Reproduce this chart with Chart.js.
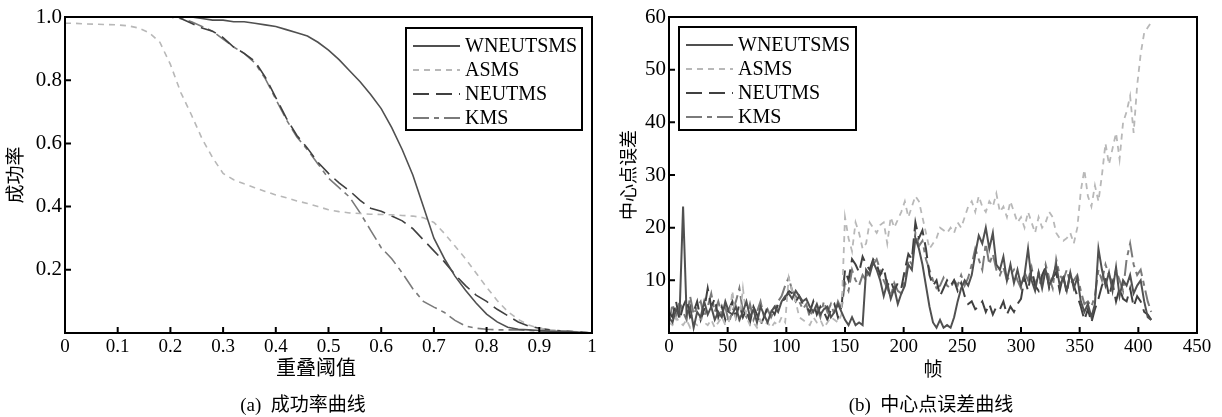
<!DOCTYPE html>
<html>

<head>
  <meta charset="UTF-8">
  <meta name="viewport" content="width=device-width, initial-scale=1.0">
  <style>
    body { margin: 0; width: 1222px; height: 417px; background: #fff; position: relative; overflow: hidden; }
    .pane { position: absolute; top: 0; height: 417px; }
    .caption { position: absolute; top: 393px; height: 24px; line-height: 24px; text-align: center;
      font-size: 19px; font-family: "Liberation Serif", "Noto Sans CJK SC", serif; color: #000; white-space: pre; }
  </style>
</head>

<body>
  <div class="pane" style="left:0; width:610px"><canvas id="successChart"></canvas></div>
  <div class="pane" style="left:610px; width:612px"><canvas id="errorChart"></canvas></div>
  <div class="caption" style="left:193px; width:220px">(a)  成功率曲线</div>
  <div class="caption" style="left:801px; width:260px">(b)  中心点误差曲线</div>

  <script src="https://cdn.jsdelivr.net/npm/chart.js@4.3.0/dist/chart.umd.min.js"></script>
  <script>
    const trackers = ["WNEUTSMS", "ASMS", "NEUTMS", "KMS"]

    // overlap thresholds (x of the success plot)
    const thresholds = [0, 0.02, 0.04, 0.06, 0.08, 0.1, 0.12, 0.14, 0.16, 0.18,
      0.2, 0.22, 0.24, 0.26, 0.28, 0.3, 0.32, 0.34, 0.36, 0.38,
      0.4, 0.42, 0.44, 0.46, 0.48, 0.5, 0.52, 0.54, 0.56, 0.58,
      0.6, 0.62, 0.64, 0.66, 0.68, 0.7, 0.72, 0.74, 0.76, 0.78,
      0.8, 0.82, 0.84, 0.86, 0.88, 0.9, 0.92, 0.94, 0.96, 0.98, 1]

    const successWNEUTSMS = [1, 1, 1, 1, 1, 1, 1, 1, 1, 1,
      1, 1, 1, 0.995, 0.99, 0.99, 0.985, 0.985, 0.98, 0.975,
      0.97, 0.96, 0.95, 0.94, 0.92, 0.895, 0.865, 0.83, 0.795, 0.755,
      0.71, 0.65, 0.58, 0.5, 0.4, 0.3, 0.235, 0.18, 0.135, 0.095,
      0.06, 0.035, 0.018, 0.012, 0.01, 0.008, 0.006, 0.005, 0.004, 0.002, 0]
    const successASMS = [0.98, 0.98, 0.978, 0.977, 0.976, 0.975, 0.972, 0.965, 0.95, 0.92,
      0.85, 0.76, 0.69, 0.615, 0.555, 0.505, 0.485, 0.472, 0.46, 0.448,
      0.437, 0.428, 0.418, 0.41, 0.4, 0.39, 0.384, 0.38, 0.378, 0.376,
      0.375, 0.374, 0.372, 0.37, 0.365, 0.35, 0.315, 0.275, 0.235, 0.19,
      0.145, 0.103, 0.068, 0.043, 0.025, 0.015, 0.01, 0.007, 0.005, 0.003, 0]
    const successNEUTMS = [1, 1, 1, 1, 1, 1, 1, 1, 1, 1,
      1, 0.995, 0.98, 0.965, 0.955, 0.935, 0.905, 0.885, 0.86, 0.81,
      0.745, 0.68, 0.625, 0.585, 0.54, 0.505, 0.475, 0.45, 0.42, 0.395,
      0.385, 0.37, 0.355, 0.33, 0.295, 0.26, 0.225, 0.185, 0.15, 0.12,
      0.1, 0.075, 0.055, 0.035, 0.022, 0.015, 0.01, 0.007, 0.005, 0.003, 0]
    const successKMS = [1, 1, 1, 1, 1, 1, 1, 1, 1, 1,
      1, 0.995, 0.985, 0.97, 0.955, 0.93, 0.905, 0.885, 0.855, 0.805,
      0.74, 0.675, 0.62, 0.58, 0.535, 0.49, 0.46, 0.43, 0.38, 0.325,
      0.27, 0.235, 0.19, 0.14, 0.1, 0.082, 0.065, 0.04, 0.022, 0.015,
      0.012, 0.01, 0.01, 0.01, 0.008, 0.006, 0.004, 0.002, 0, 0, 0]

    // frame numbers (x of the center error plot)
    const frames = [0, 3, 6, 9, 12, 15, 18, 21, 24, 27,
      30, 33, 36, 39, 42, 45, 48, 51, 54, 57,
      60, 63, 66, 69, 72, 75, 78, 81, 84, 87,
      90, 93, 96, 99, 102, 105, 108, 111, 114, 117,
      120, 123, 126, 129, 132, 135, 138, 141, 144, 147,
      150, 153, 156, 159, 162, 165, 168, 171, 174, 177,
      180, 183, 186, 189, 192, 195, 198, 201, 204, 207,
      210, 213, 216, 219, 222, 225, 228, 231, 234, 237,
      240, 243, 246, 249, 252, 255, 258, 261, 264, 267,
      270, 273, 276, 279, 282, 285, 288, 291, 294, 297,
      300, 303, 306, 309, 312, 315, 318, 321, 324, 327,
      330, 333, 336, 339, 342, 345, 348, 351, 354, 357,
      360, 363, 366, 369, 372, 375, 378, 381, 384, 387,
      390, 393, 396, 399, 402, 405, 408, 411]

    const errorWNEUTSMS = [3, 2, 4.5, 3.5, 24, 3.5, 5, 1, 4, 3,
      6, 3.5, 5, 2.5, 4, 3, 6, 4, 3.5, 5,
      2.5, 4, 6, 3, 4.5, 2, 5, 3.5, 2, 4,
      5, 4, 6, 7, 7.5, 6.5, 8, 7, 6, 6.5,
      5, 4, 5.5, 3.5, 4.5, 5, 3, 4, 5.5, 4,
      2.5, 1.5, 3, 1.5, 2, 1.5, 12, 11, 13.5, 12,
      10, 7, 9.5, 6.5, 8.5, 5.5, 7.5, 9, 13, 12,
      18, 16, 13, 9, 5, 2, 1, 2.5, 1, 1.5,
      1, 3, 6, 8.5, 10, 9, 11, 15, 18.5, 17,
      20, 16, 19, 13, 12, 14.5, 10, 13, 9.5, 12,
      9, 11, 16, 10, 8, 11.5, 8.5, 12, 9, 10.5,
      13, 9, 10.5, 8, 11.5, 8.5, 10.5, 6, 4, 5.5,
      3, 5.5, 16, 12, 9, 11.5, 8, 12.5, 7, 10,
      9, 11, 7.5, 9, 10, 6, 3, 2.5]
    const errorASMS = [2, 1.5, 3, 2, 1.5, 2.5, 1, 2, 1.5, 3,
      2, 1.5, 2.5, 1, 2, 3, 1.5, 2, 8, 2.5,
      2, 8.5, 3, 1.5, 2, 1, 2.5, 1.5, 2, 1,
      2, 1.5, 3, 2, 10.5, 8, 6, 3, 2.5, 2,
      1.5, 3, 2, 2.5, 1, 2, 3, 2.5, 2, 3.5,
      22, 18, 15.5, 21, 19, 16, 17, 21, 20, 19,
      20.5, 21, 17, 22, 20, 21.5, 23, 25, 22, 24,
      26, 25, 22, 19, 16, 17, 18, 20, 19.5, 19,
      20, 19, 21, 20, 22, 24, 25, 23, 26, 24,
      23, 25, 24, 26.5, 23, 24, 22, 25, 23, 21,
      22, 20, 23, 21, 19, 22, 20, 21, 23, 22,
      19, 18, 17.5, 18, 19, 17, 20, 27, 31, 26,
      24, 28, 25, 30, 36, 32, 35, 38, 33, 40,
      42, 45, 38, 47, 53, 57, 58, 59]
    const errorNEUTMS = [4, 3, 6, 2.5, 5, 6.5, 3, 4, 6, 2.5,
      4.5, 8.5, 5, 6.5, 3, 5, 2.5, 4.5, 6, 3,
      5.5, 3, 4.5, 2, 5, 3.5, 1.5, 3, 5, 4.5,
      3.5, 5.5, 6, 6.5, 8, 7.5, 6, 7, 5.5, 5,
      4, 6, 3.5, 5, 4, 2.5, 4.5, 5.5, 3, 5,
      12, 10, 14, 13, 11.5, 14.5, 13, 12, 14, 13,
      11, 12.5, 9, 10, 8, 9.5, 8.5, 12, 15, 14,
      21, 18, 19.5, 16, 11, 9, 10, 7, 8.5, 10,
      9, 10, 8, 9.5, 7, 5.5, 6, 4.5, 5, 6,
      4, 5.5, 3.5, 5, 4.5, 6, 3.5, 5, 4, 5.5,
      6.5, 10.5, 8, 12, 9, 8, 11, 12.5, 8.5, 10.5,
      11.5, 8, 11, 7.5, 11.5, 9, 7, 5, 2.5, 4.5,
      2, 4.5, 6.5, 9, 10.5, 7, 9.5, 6, 8.5, 6.5,
      6, 8.5, 5, 7, 6, 4, 3.5, 2.5]
    const errorKMS = [2, 5.5, 3, 6, 4, 2.5, 7, 3.5, 5, 6,
      3, 5, 7.5, 4, 6, 3.5, 5, 2, 4, 6,
      8.5, 4, 3, 5.5, 2.5, 4, 6, 3, 4.5, 3,
      4.5, 6, 7, 9, 10.5, 8, 7, 6, 4.5, 5.5,
      3, 4.5, 5, 3, 6, 4, 5.5, 3.5, 6, 4.5,
      9.5, 8, 12, 10, 9, 11, 10, 12.5, 13, 14,
      12, 10, 8.5, 7, 9.5, 8, 7.5, 10, 14, 13,
      19, 16.5, 17.5, 14, 12, 10, 8.5, 9, 10.5, 9,
      8.5, 10, 9, 11, 9, 10.5, 13, 16, 14, 12,
      17, 13, 15, 12, 11, 12.5, 10, 11, 12, 10,
      8.5, 11.5, 10, 12.5, 9, 11.5, 9.5, 13, 10.5, 8.5,
      14, 11, 10, 12, 9.5, 10, 11, 8, 5.5, 6,
      5, 7, 12, 10, 13, 11, 9.5, 12, 10, 8,
      14, 17, 13, 11, 12, 9, 6, 4]

    const serif = "'Liberation Serif', 'Noto Sans CJK SC', serif"
    const lineStyles = [
      { color: "#505050", dash: [] },
      { color: "#b8b8b8", dash: [6, 5] },
      { color: "#404040", dash: [16, 7] },
      { color: "#7a7a7a", dash: [16, 5, 5, 5] }
    ]

    function buildSets(xs, series, widths) {
      return series.map((ys, i) => ({
        label: trackers[i],
        data: xs.map((x, k) => ({ x: x, y: ys[k] })),
        borderColor: lineStyles[i].color,
        borderDash: lineStyles[i].dash,
        borderWidth: widths[i],
        pointRadius: 0,
        tension: 0,
        fill: false
      }))
    }

    // box border, inward ticks and the boxed legend
    const framePlugin = {
      id: "framePlugin",
      afterDatasetsDraw(chart, args, opts) {
        const { ctx, chartArea: a, scales } = chart
        ctx.save()
        ctx.setLineDash([])
        ctx.strokeStyle = "#000"
        ctx.lineWidth = 2
        ctx.strokeRect(a.left, a.top, a.right - a.left, a.bottom - a.top)

        ctx.beginPath()
        scales.x.ticks.forEach(t => {
          const px = scales.x.getPixelForValue(t.value)
          if (px > a.left + 2 && px < a.right - 2) {
            ctx.moveTo(px, a.bottom)
            ctx.lineTo(px, a.bottom - 6)
          }
        })
        scales.y.ticks.forEach(t => {
          const py = scales.y.getPixelForValue(t.value)
          if (py > a.top + 2 && py < a.bottom - 2) {
            ctx.moveTo(a.left, py)
            ctx.lineTo(a.left + 6, py)
          }
        })
        ctx.stroke()

        const lg = opts.legend
        ctx.fillStyle = "#fff"
        ctx.fillRect(lg.x, lg.y, lg.w, lg.h)
        ctx.strokeStyle = "#000"
        ctx.lineWidth = 2
        ctx.strokeRect(lg.x, lg.y, lg.w, lg.h)
        ctx.font = "20px " + serif
        ctx.textBaseline = "middle"
        chart.data.datasets.forEach((ds, i) => {
          const y = lg.y + 18 + i * 24
          ctx.strokeStyle = ds.borderColor
          ctx.setLineDash(ds.borderDash)
          ctx.lineWidth = 2
          ctx.beginPath()
          ctx.moveTo(lg.x + 7, y)
          ctx.lineTo(lg.x + 54, y)
          ctx.stroke()
          ctx.fillStyle = "#000"
          ctx.fillText(ds.label, lg.x + 59, y + 1)
        })
        ctx.restore()
      }
    }

    function axisOptions(cfg) {
      return {
        x: {
          type: "linear", min: cfg.xMin, max: cfg.xMax,
          border: { display: false },
          grid: { display: false, drawTicks: false },
          ticks: {
            stepSize: cfg.xStep, padding: 3, color: "#000", font: { family: serif, size: 19 }, maxRotation: 0,
            callback: v => String(Math.round(v * 10) / 10)
          },
          title: { display: true, text: cfg.xTitle, color: "#000", padding: 0, font: { family: serif, size: cfg.xTitleSize } },
          afterFit: s => { s.height = 49 }
        },
        y: {
          min: 0, max: cfg.yMax,
          border: { display: false },
          grid: { display: false, drawTicks: false },
          ticks: {
            stepSize: cfg.yStep, padding: 3, color: "#000", font: { family: serif, size: 21 },
            callback: v => v === 0 ? "" : v.toFixed(cfg.yDigits)
          },
          title: { display: true, text: cfg.yTitle, color: "#000", padding: { top: cfg.yTitlePad, bottom: 0 }, font: { family: serif, size: cfg.yTitleSize } },
          afterFit: s => { s.width = cfg.yWidth }
        }
      }
    }

    new Chart(document.getElementById("successChart"), {
      type: "line",
      data: { datasets: buildSets(thresholds, [successWNEUTSMS, successASMS, successNEUTMS, successKMS], [1.6, 1.6, 1.6, 1.6]) },
      options: {
        responsive: true, maintainAspectRatio: false, animation: false,
        layout: { padding: { top: 17, right: 18, bottom: 35, left: 0 } },
        plugins: {
          legend: { display: false }, tooltip: { enabled: false },
          framePlugin: { legend: { x: 406, y: 28, w: 176, h: 102 } }
        },
        scales: axisOptions({
          xMin: 0, xMax: 1, xStep: 0.1, yMax: 1, yStep: 0.2, yDigits: 1, yWidth: 65,
          xTitle: "重叠阈值\u3000 ", xTitleSize: 20, yTitle: "成功率", yTitleSize: 19, yTitlePad: 6
        })
      },
      plugins: [framePlugin]
    })

    new Chart(document.getElementById("errorChart"), {
      type: "line",
      data: { datasets: buildSets(frames, [errorWNEUTSMS, errorASMS, errorNEUTMS, errorKMS], [2, 1.8, 2, 2]) },
      options: {
        responsive: true, maintainAspectRatio: false, animation: false,
        layout: { padding: { top: 17, right: 25, bottom: 35, left: 0 } },
        plugins: {
          legend: { display: false }, tooltip: { enabled: false },
          framePlugin: { legend: { x: 69, y: 27, w: 177, h: 103 } }
        },
        scales: axisOptions({
          xMin: 0, xMax: 450, xStep: 50, yMax: 60, yStep: 10, yDigits: 0, yWidth: 59,
          xTitle: "帧", xTitleSize: 19, yTitle: "中心点误差", yTitleSize: 18, yTitlePad: 9
        })
      },
      plugins: [framePlugin]
    })
  </script>
</body>
</html>
